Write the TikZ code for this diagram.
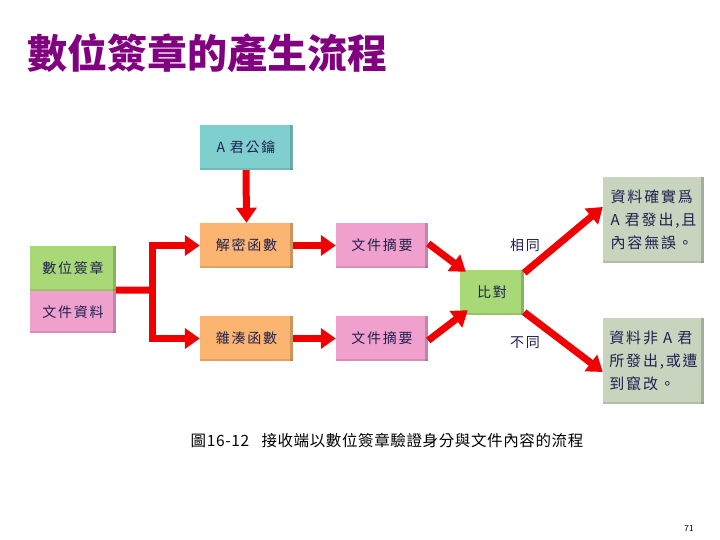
\documentclass[tikz,border=0pt]{standalone}
\usepackage{fontspec}
\setmainfont{Noto Sans CJK TC}
\newfontfamily\boxfont[LetterSpace=12]{Noto Sans CJK TC}
\newfontfamily\capfont[LetterSpace=4]{Noto Sans CJK TC}
\usetikzlibrary{arrows.meta}
\definecolor{cteal}{HTML}{80CFCF}
\definecolor{corange}{HTML}{FBB570}
\definecolor{cpink}{HTML}{F0A0CC}
\definecolor{cgreen}{HTML}{A9D977}
\definecolor{cgray}{HTML}{C8D4BE}
\definecolor{ctext}{HTML}{1F1F4F}
\definecolor{cpurple}{HTML}{800080}
\definecolor{cred}{HTML}{F00000}
\begin{document}
\begin{tikzpicture}[x=1pt,y=-1pt,
  box/.style={inner sep=0pt, text=ctext, font=\boxfont\fontsize{14}{16}\selectfont,
    path picture={\fill[black,opacity=0.18] ([xshift=-3pt]path picture bounding box.north east) rectangle (path picture bounding box.south east);
                  \fill[black,opacity=0.10] (path picture bounding box.south west) rectangle ([yshift=2pt]path picture bounding box.south east);}},
  sbox/.style={box, minimum width=93pt, minimum height=45pt},
  tbox/.style={box, fill=cgray, minimum width=101pt, minimum height=86pt, align=left,
    font=\boxfont\fontsize{15}{17}\selectfont},
  flow/.style={draw=cred, line width=7pt, line join=miter},
  arr/.style={flow, -{Triangle[width=20pt,length=15pt]}},
  lbl/.style={text=ctext, font=\boxfont\fontsize{14}{16}\selectfont}
]
\useasboundingbox (0,0) rectangle (720,540);
\fill[white] (0,0) rectangle (720,540);

% title
\node[anchor=west, text=cpurple, font=\bfseries\fontsize{40}{42}\selectfont, inner sep=0pt] (title) at (27,53) {數位簽章的產生流程};

% boxes
\node[sbox, fill=cteal] (akey) at (246,147.5) {A 君公鑰};
\node[sbox, fill=corange] (dec) at (246.5,245.5) {解密函數};
\node[sbox, fill=corange] (hash) at (246.5,338.5) {雜湊函數};
\node[box, fill=cgreen, minimum width=86pt, minimum height=45pt] (sig) at (73,268.5) {數位簽章};
\node[box, fill=cpink, minimum width=86pt, minimum height=42pt] (doc) at (73,312) {文件資料};
\node[sbox, fill=cpink, minimum width=92pt] (dg1) at (382,245.5) {文件摘要};
\node[sbox, fill=cpink, minimum width=92pt] (dg2) at (382,338.5) {文件摘要};
\node[box, fill=cgreen, minimum width=64pt, minimum height=45pt] (cmp) at (492,292.5) {比對};
\node[tbox] (rt) at (653.5,220)
  {資料確實爲\\[6pt]A 君發出,且\\[6pt]內容無誤。};
\node[tbox] (rb) at (653.5,361)
  {資料非 A 君\\[6pt]所發出,或遭\\[6pt]到竄改。};

\node[lbl] (same) at (525,245) {相同};
\node[lbl] (diff) at (525,343) {不同};

% connectors
\coordinate (jn) at (152,290);
\draw[flow] ([yshift=1pt]sig.south east) -- (jn);
\draw[arr] (jn) |- (dec.west);
\draw[arr] (jn) |- (hash.west);
\draw[arr] (akey.south) -- (dec.north);
\draw[arr] (dec.east) -- (dg1.west);
\draw[arr] (hash.east) -- (dg2.west);
\draw[arr] ([yshift=2pt]dg1.east) -- ([xshift=6pt,yshift=-2pt]cmp.north west);
\draw[arr] ([yshift=-2pt]dg2.east) -- ([xshift=8pt,yshift=5pt]cmp.south west);
\draw[arr] ([yshift=-3pt]cmp.north east) -- ([yshift=13pt]rt.west);
\draw[arr] ([yshift=3pt]cmp.south east) -- ([yshift=-11pt]rb.west);

% caption
\node[text=black, font=\capfont\fontsize{15.5}{18}\selectfont, inner sep=0pt] (cap) at (387,441)
  {圖16-12\hspace{0.8em}接收端以數位簽章驗證身分與文件內容的流程};

% page number
\node[font=\sffamily\fontsize{9}{11}\selectfont, inner sep=0pt] (pg) at (689,529) {71};
\end{tikzpicture}
\end{document}
